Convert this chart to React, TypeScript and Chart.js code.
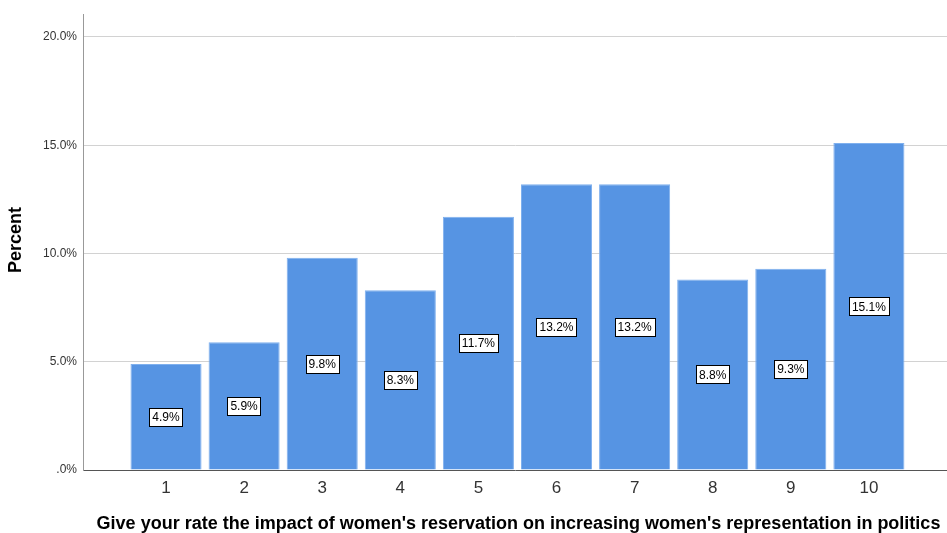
import React, { useEffect, useRef } from "react";
import { Chart, registerables } from "chart.js";

Chart.register(...registerables);

const categories = ["1", "2", "3", "4", "5", "6", "7", "8", "9", "10"];
const percents = [4.9, 5.9, 9.8, 8.3, 11.7, 13.2, 13.2, 8.8, 9.3, 15.1];
const yTicks = [0, 5, 10, 15, 20];
const xTitle = "Give your rate the impact of women's reservation on increasing women's representation in politics";
const yTitle = "Percent";

const FONT = "'Liberation Sans', Arial, sans-serif";

const labelPlugin = {
  id: "barLabels",
  afterDatasetsDraw(chart: any) {
    const ctx = chart.ctx;
    const meta = chart.getDatasetMeta(0);
    ctx.save();
    ctx.font = `12px ${FONT}`;
    ctx.textAlign = "center";
    ctx.textBaseline = "middle";
    meta.data.forEach((el: any, i: number) => {
      const txt = percents[i].toFixed(1) + "%";
      const cx = el.x;
      const cy = (el.y + el.base) / 2;
      const w = ctx.measureText(txt).width + 6;
      const h = 18;
      const x0 = Math.round(cx - w / 2) + 0.5;
      const y0 = Math.round(cy - h / 2) + 0.5;
      ctx.fillStyle = "#ffffff";
      ctx.fillRect(x0, y0, Math.round(w), h);
      ctx.strokeStyle = "#000000";
      ctx.lineWidth = 1;
      ctx.strokeRect(x0, y0, Math.round(w), h);
      ctx.fillStyle = "#000000";
      ctx.fillText(txt, cx, cy + 1);
    });
    ctx.restore();
  },
};

const titlePlugin = {
  id: "axisTitles",
  afterDraw(chart: any) {
    const ctx = chart.ctx;
    ctx.save();
    ctx.fillStyle = "#000000";
    ctx.font = `bold 18px ${FONT}`;
    ctx.textAlign = "center";
    ctx.textBaseline = "middle";
    ctx.fillText(xTitle, 518.5, 524);
    ctx.translate(16.5, 240);
    ctx.rotate(-Math.PI / 2);
    ctx.fillText(yTitle, 0, 0);
    ctx.restore();
  },
};

export default function App() {
  const ref = useRef<HTMLCanvasElement | null>(null);

  useEffect(() => {
    document.body.style.margin = "0";
    const canvas = ref.current;
    if (!canvas) return;
    const chart = new Chart(canvas, {
      type: "bar",
      data: {
        datasets: [
          {
            data: categories.map((c, i) => ({ x: Number(c), y: percents[i] })) as any,
            backgroundColor: "#5694E3",
            borderColor: "#7FB0EE",
            borderWidth: 1,
            barPercentage: 0.91,
            categoryPercentage: 1,
          },
        ],
      },
      options: {
        responsive: false,
        animation: false,
        events: [],
        layout: { padding: { top: 14, left: 0, right: 0, bottom: 0 } },
        plugins: {
          legend: { display: false },
          tooltip: { enabled: false },
        },
        scales: {
          x: {
            type: "linear",
            offset: false,
            min: -0.063,
            max: 11.0,
            afterBuildTicks: (scale: any) => {
              scale.ticks = categories.map((c) => ({ value: Number(c) }));
            },
            afterFit: (scale: any) => {
              scale.height = 63;
            },
            grid: { display: false, drawTicks: false, offset: false },
            border: { display: true, color: "#555555", width: 1 },
            ticks: {
              autoSkip: false,
              maxRotation: 0,
              padding: 8,
              color: "#333333",
              font: { family: FONT, size: 17 },
              callback: (v: any) => String(v),
            },
          },
          y: {
            type: "linear",
            min: 0,
            max: 21.06,
            afterBuildTicks: (scale: any) => {
              scale.ticks = yTicks.map((v) => ({ value: v }));
            },
            afterFit: (scale: any) => {
              scale.width = 83;
            },
            grid: {
              drawTicks: false,
              color: (c: any) => (c.tick && c.tick.value === 0 ? "rgba(0,0,0,0)" : "#d2d2d2"),
              lineWidth: 1,
            },
            border: { display: true, color: "#999999", width: 1 },
            ticks: {
              padding: 6,
              color: "#333333",
              font: { family: FONT, size: 12 },
              callback: (v: any) => (Number(v) === 0 ? ".0%" : Number(v).toFixed(1) + "%"),
            },
          },
        },
      },
      plugins: [labelPlugin, titlePlugin],
    });
    return () => chart.destroy();
  }, []);

  return (
    <div style={{ width: 947, height: 533, background: "#ffffff" }}>
      <canvas ref={ref} width={947} height={533} style={{ display: "block" }} />
    </div>
  );
}
